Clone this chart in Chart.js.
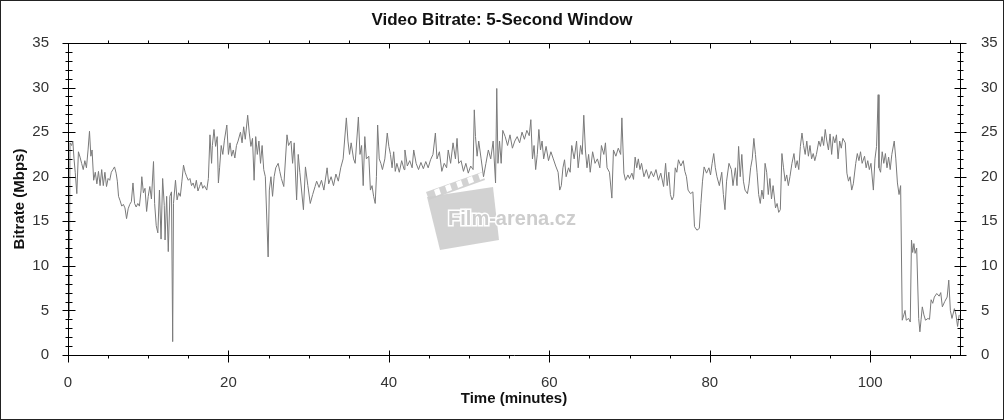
<!DOCTYPE html>
<html>
<head>
<meta charset="utf-8">
<script src="https://cdn.jsdelivr.net/npm/chart.js@4/dist/chart.umd.min.js"></script>
<style>
  html, body { margin: 0; padding: 0; background: #fff; }
  canvas { display: block; }
</style>
</head>
<body>
<canvas id="myChart" width="1004" height="420"></canvas>
<script>
// time (minutes) and 5-second-window bitrate (Mbps)
const minutes = [
  0, 0.05, 0.15, 0.25, 0.45, 0.6, 0.75, 0.9, 1.1, 1.3,
  1.5, 1.7, 1.9, 2.1, 2.3, 2.5, 2.68, 2.85, 3.0, 3.2,
  3.4, 3.6, 3.8, 4.0, 4.2, 4.4, 4.6, 4.8, 5.0, 5.2,
  5.4, 5.6, 5.8, 6.0, 6.15, 6.3, 6.5, 6.7, 6.9, 7.1,
  7.3, 7.5, 7.7, 7.9, 8.1, 8.3, 8.5, 8.7, 8.9, 9.1,
  9.2, 9.4, 9.6, 9.8, 10.0, 10.2, 10.4, 10.66, 10.8, 11.0,
  11.2, 11.4, 11.6, 11.8, 12.0, 12.1, 12.3, 12.5, 12.7, 12.9,
  13.05, 13.15, 13.4, 13.6, 13.8, 14.0, 14.2, 14.4, 14.6, 14.8,
  15.0, 15.2, 15.4, 15.6, 15.8, 16.0, 16.2, 16.4, 16.6, 16.8,
  17.0, 17.3, 17.5, 17.7, 17.9, 18.0, 18.2, 18.4, 18.6, 18.75,
  18.9, 19.1, 19.3, 19.5, 19.8, 20.0, 20.2, 20.4, 20.6, 20.8,
  21.0, 21.2, 21.5, 21.7, 21.9, 22.1, 22.4, 22.6, 22.8, 23.0,
  23.2, 23.4, 23.6, 23.8, 24.0, 24.2, 24.4, 24.6, 24.95, 25.1,
  25.3, 25.5, 25.7, 25.9, 26.2, 26.4, 26.6, 26.9, 27.3, 27.5,
  27.8, 28.0, 28.2, 28.5, 28.7, 28.9, 29.35, 29.6, 29.9, 30.2,
  30.5, 30.8, 31.0, 31.3, 31.6, 31.9, 32.3, 32.5, 32.8, 33.1,
  33.4, 33.7, 34.0, 34.3, 34.7, 34.9, 35.1, 35.3, 35.6, 35.8,
  36.2, 36.4, 36.6, 36.8, 37.0, 37.2, 37.5, 37.7, 37.9, 38.1,
  38.3, 38.45, 38.6, 38.8, 39.0, 39.2, 39.5, 39.8, 40.0, 40.2,
  40.4, 40.6, 40.8, 41.0, 41.3, 41.6, 41.9, 42.0, 42.3, 42.6,
  42.9, 43.1, 43.4, 43.7, 44.0, 44.3, 44.6, 44.9, 45.2, 45.5,
  45.8, 46.0, 46.3, 46.6, 46.9, 47.2, 47.4, 47.7, 48.0, 48.3,
  48.5, 48.7, 49.0, 49.3, 49.6, 49.9, 50.2, 50.5, 50.65, 50.8,
  51.0, 51.2, 51.5, 51.8, 52.1, 52.4, 52.7, 53.0, 53.3, 53.45,
  53.6, 53.8, 54.0, 54.2, 54.5, 54.8, 55.1, 55.4, 55.7, 56.0,
  56.3, 56.6, 56.9, 57.2, 57.5, 57.7, 57.9, 58.1, 58.3, 58.5,
  58.7, 58.9, 59.1, 59.3, 59.6, 59.9, 60.2, 60.5, 60.8, 61.1,
  61.3, 61.5, 61.7, 61.9, 62.1, 62.4, 62.6, 62.8, 63.1, 63.4,
  63.6, 63.9, 64.1, 64.3, 64.5, 64.7, 64.9, 65.1, 65.4, 65.7,
  66.0, 66.3, 66.5, 66.8, 67.0, 67.2, 67.5, 67.8, 68.0, 68.3,
  68.6, 68.9, 69.05, 69.3, 69.5, 69.8, 70.0, 70.3, 70.5, 70.7,
  70.9, 71.1, 71.3, 71.5, 71.8, 72.1, 72.4, 72.7, 73.0, 73.3,
  73.6, 73.9, 74.25, 74.5, 74.7, 74.9, 75.1, 75.3, 75.5, 75.7,
  75.9, 76.1, 76.4, 76.7, 76.9, 77.1, 77.3, 77.6, 77.9, 78.1,
  78.4, 78.7, 78.9, 79.1, 79.3, 79.6, 79.9, 80.1, 80.3, 80.5,
  80.7, 80.9, 81.2, 81.5, 81.7, 81.9, 82.1, 82.4, 82.7, 82.9,
  83.2, 83.4, 83.6, 83.8, 84.0, 84.2, 84.4, 84.7, 84.9, 85.1,
  85.3, 85.5, 85.7, 85.9, 86.1, 86.3, 86.5, 86.7, 86.9, 87.1,
  87.3, 87.5, 87.7, 87.9, 88.2, 88.4, 88.6, 88.8, 89.0, 89.2,
  89.4, 89.6, 89.8, 90.0, 90.25, 90.5, 90.7, 90.9, 91.1, 91.3,
  91.5, 91.7, 91.9, 92.1, 92.3, 92.5, 92.7, 92.9, 93.1, 93.3,
  93.6, 93.8, 94.0, 94.2, 94.4, 94.6, 94.8, 95.0, 95.2, 95.4,
  95.6, 95.8, 96.0, 96.2, 96.4, 96.6, 96.9, 97.1, 97.3, 97.5,
  97.7, 97.9, 98.2, 98.4, 98.6, 98.8, 99.0, 99.3, 99.5, 99.7,
  99.9, 100.1, 100.4, 100.6, 100.8, 101.0, 101.1, 101.3, 101.5, 101.7,
  101.9, 102.1, 102.3, 102.5, 102.7, 103.0, 103.2, 103.4, 103.6, 103.8,
  104.0, 104.2, 104.35, 104.5, 104.8, 105.0, 105.15, 105.3, 105.45, 105.6,
  105.8, 106.05, 106.2, 106.35, 106.5, 106.7, 106.9, 107.2, 107.4, 107.6,
  107.8, 108.0, 108.3, 108.6, 108.8, 109.0, 109.3, 109.6, 109.8, 110.0,
  110.2, 110.5, 110.7, 110.9, 111.1
];
const mbps = [
  3.0, 5.0, 4.2, 23.8, 23.5, 24.0, 22.0, 20.5, 18.1, 22.8,
  22.2, 21.5, 20.8, 21.8, 21.0, 23.0, 25.1, 22.3, 23.0, 19.6,
  20.5, 19.2, 20.6, 19.0, 20.8, 19.0, 20.5, 18.9, 19.8, 19.6,
  20.5, 20.8, 21.1, 20.4, 19.5, 17.8, 17.3, 16.7, 16.9, 16.5,
  15.3, 16.4, 16.9, 17.2, 19.3, 17.0, 16.6, 17.0, 16.7, 18.4,
  20.0, 18.2, 18.7, 16.1, 17.8, 18.9, 17.5, 21.7, 17.0, 14.5,
  13.7, 18.5, 13.0, 19.8, 16.8, 12.9, 17.8, 11.6, 17.8, 18.3,
  1.5, 17.0, 19.6, 17.4, 18.2, 17.8, 19.5, 21.3, 20.5, 20.0,
  19.6, 19.8, 19.0, 19.3, 18.7, 19.6, 18.4, 18.9, 19.4, 18.7,
  19.0, 18.5, 19.8, 24.7, 21.5, 23.5, 25.3, 23.4, 24.5, 19.3,
  21.0, 23.5, 22.5, 24.1, 25.8, 22.5, 23.8, 22.3, 23.0, 22.1,
  23.5, 24.0, 25.0, 23.8, 25.6, 24.2, 26.9, 24.9, 23.4, 24.3,
  19.6, 24.5, 22.5, 24.0, 21.5, 23.5, 20.8, 20.0, 11.0, 18.5,
  20.0, 17.8, 20.0, 21.0, 21.5, 20.6, 19.8, 18.9, 24.7, 23.5,
  24.0, 21.5, 23.8, 17.4, 22.5, 20.5, 16.3, 21.1, 19.0, 17.0,
  18.0, 18.9, 19.5, 18.8, 19.6, 18.5, 21.0, 19.2, 20.0, 19.0,
  20.3, 19.5, 21.0, 22.0, 26.6, 24.0, 22.5, 23.8, 22.0, 21.5,
  26.7, 22.5, 23.5, 19.0, 24.5, 22.0, 22.3, 18.5, 19.0, 17.8,
  17.0, 20.0, 25.8, 22.0, 21.5, 20.8, 22.0, 24.9, 23.4, 22.5,
  21.0, 22.8, 20.6, 21.5, 20.5, 21.8, 20.8, 23.0, 21.2, 21.8,
  21.0, 23.0, 21.5, 20.8, 21.6, 20.9, 21.7, 21.0, 21.9, 22.5,
  24.9, 22.0, 22.8, 20.6, 21.5, 21.0, 23.0, 21.5, 23.8, 22.0,
  24.3, 21.5, 21.8, 20.6, 21.5, 20.4, 21.2, 20.8, 27.5, 24.5,
  22.3, 24.0, 22.0, 20.0, 21.5, 23.0, 22.0, 24.0, 19.3, 29.9,
  21.5, 24.0, 21.5, 25.2, 24.5, 23.5, 24.7, 23.2, 24.0, 24.5,
  23.8, 25.0, 24.2, 25.2, 24.6, 26.4, 22.0, 23.5, 20.8, 22.5,
  25.3, 23.0, 24.0, 22.0, 23.4, 21.8, 22.8, 22.0, 21.2, 20.5,
  18.5, 19.0, 21.0, 21.9, 20.0, 21.0, 20.5, 23.5, 22.0, 24.0,
  21.0, 23.5, 22.5, 26.9, 23.0, 21.0, 22.5, 20.5, 22.8, 21.5,
  22.0, 21.0, 23.5, 22.5, 23.8, 21.0, 20.5, 17.6, 23.0, 22.3,
  23.2, 22.5, 26.6, 20.4, 19.6, 20.2, 19.8, 20.4, 19.7, 22.2,
  21.0, 22.0, 20.8, 21.5, 20.0, 20.8, 19.8, 20.6, 20.0, 20.8,
  19.6, 20.4, 18.9, 21.5, 19.0, 20.5, 18.0, 17.4, 17.8, 21.0,
  20.5, 21.9, 21.2, 21.8, 20.6, 20.0, 18.5, 18.1, 18.3, 14.4,
  14.0, 14.2, 17.0, 19.5, 21.1, 20.4, 21.0, 20.2, 21.5, 22.6,
  21.0, 20.0, 19.0, 20.5, 18.0, 16.3, 19.5, 21.5, 20.8, 19.0,
  21.0, 19.0, 23.4, 20.0, 22.5, 19.5, 18.5, 18.1, 19.2, 21.0,
  22.0, 24.3, 22.5, 20.5, 18.0, 17.0, 18.5, 17.5, 21.5, 20.5,
  18.0, 19.8, 17.5, 19.0, 16.5, 17.0, 16.0, 16.3, 22.6, 21.0,
  19.5, 20.2, 19.0, 20.0, 21.5, 22.6, 21.0, 21.8, 20.8, 23.4,
  24.9, 23.5, 22.5, 24.0, 22.3, 23.5, 22.0, 22.6, 21.8, 22.5,
  24.0, 23.4, 24.5, 23.5, 25.3, 24.0, 23.0, 24.8, 22.5, 24.5,
  23.8, 24.7, 22.0, 24.0, 23.2, 24.3, 23.8, 20.4, 19.5, 20.0,
  18.5, 19.2, 21.5, 22.6, 21.8, 22.8, 21.5, 22.3, 21.0, 21.8,
  20.8, 21.5, 18.5, 22.0, 23.4, 29.2, 21.0, 20.5, 22.8, 21.5,
  22.6, 21.0, 22.2, 20.8, 22.5, 24.0, 22.0, 19.3, 18.0, 19.0,
  3.9, 4.5, 5.0, 3.9, 4.1, 3.7, 12.9, 11.5, 12.5, 11.4,
  12.0, 4.1, 2.6, 4.0, 5.4, 4.5, 3.9, 4.1, 4.0, 6.2,
  5.8, 6.5, 6.9, 6.6, 7.0, 5.4, 6.0, 6.5, 8.4, 5.0,
  4.1, 5.2, 4.5, 3.2, 4.5
];

const xTicks = [0, 20, 40, 60, 80, 100];
const yTicks = [0, 5, 10, 15, 20, 25, 30, 35];
const xMax = 111.2;

const FONT = "'Liberation Sans', Arial, sans-serif";
const tickFont = { family: FONT, size: 15 };
const titleFont = { family: FONT, size: 15, weight: 'bold' };

// axis lines, crossing major ticks, minor ticks, frame and watermark
const axisMarks = {
    id: 'axisMarks',
    beforeDatasetsDraw(chart) {
        const { ctx, chartArea: a } = chart;
        const cx = (a.left + a.right) / 2, cy = (a.top + a.bottom) / 2;
        ctx.save();
        ctx.fillStyle = 'rgba(205,205,205,0.9)';
        // clapper body
        ctx.beginPath();
        ctx.moveTo(cx - 87, cy - 2);
        ctx.lineTo(cx - 21, cy - 12);
        ctx.lineTo(cx - 15, cy + 41);
        ctx.lineTo(cx - 74, cy + 51);
        ctx.closePath();
        ctx.fill();
        // clapper top bar
        ctx.beginPath();
        ctx.moveTo(cx - 88, cy - 7);
        ctx.lineTo(cx - 32, cy - 27);
        ctx.lineTo(cx - 29, cy - 19);
        ctx.lineTo(cx - 85, cy + 1);
        ctx.closePath();
        ctx.fill();
        ctx.fillStyle = '#fff';
        for (let i = 0; i < 5; i++) {
            const ox = cx - 80 + i * 11, oy = cy - 9 - i * 4;
            ctx.beginPath();
            ctx.moveTo(ox, oy);
            ctx.lineTo(ox + 5, oy - 2);
            ctx.lineTo(ox + 7, oy + 4);
            ctx.lineTo(ox + 2, oy + 6);
            ctx.closePath();
            ctx.fill();
        }
        ctx.font = "bold 20px " + FONT;
        ctx.textAlign = 'center';
        ctx.textBaseline = 'middle';
        ctx.lineWidth = 3;
        ctx.strokeStyle = '#fff';
        ctx.strokeText('Film-arena.cz', cx - 2, cy + 20);
        ctx.fillStyle = '#cdcdcd';
        ctx.fillText('Film-arena.cz', cx - 2, cy + 20);
        ctx.restore();
    },
    afterDraw(chart) {
        const { ctx, chartArea: a, scales: { x, y } } = chart;
        const L = Math.round(a.left) + 0.5, R = Math.round(a.right) + 0.5;
        const T = Math.round(a.top) + 0.5, B = Math.round(a.bottom) + 0.5;
        ctx.save();
        ctx.strokeStyle = '#000';
        ctx.lineWidth = 1;
        ctx.beginPath();
        ctx.moveTo(L - 3, T); ctx.lineTo(R, T);
        ctx.moveTo(L, T); ctx.lineTo(L, B);
        ctx.moveTo(R, T); ctx.lineTo(R, B);
        ctx.moveTo(L, B); ctx.lineTo(R, B);
        for (let v = 0; v <= 35; v++) {
            const p = Math.round(y.getPixelForValue(v)) + 0.5;
            const major = v % 5 === 0;
            ctx.moveTo(L - (major ? 6 : 3), p); ctx.lineTo(L + (major ? 7 : 4), p);
            ctx.moveTo(R - (major ? 6 : 3), p); ctx.lineTo(R + (major ? 6 : 3), p);
        }
        for (let t = 0; t <= xMax; t += 5) {
            const p = Math.round(x.getPixelForValue(t)) + 0.5;
            if (t % 20 === 0) {
                ctx.moveTo(p, B - 5); ctx.lineTo(p, B + 7);
                ctx.moveTo(p, T); ctx.lineTo(p, T + 5);
            } else {
                ctx.moveTo(p, B); ctx.lineTo(p, B + 3);
                ctx.moveTo(p, T - 3); ctx.lineTo(p, T);
            }
        }
        ctx.stroke();
        ctx.strokeStyle = '#222';
        ctx.strokeRect(0.5, 0.5, chart.width - 1, chart.height - 1);
        ctx.restore();
    }
};

const data = {
    datasets: [{
        label: 'Video Bitrate',
        data: minutes.map((t, i) => ({ x: t, y: mbps[i] })),
        borderColor: '#7a7a7a',
        borderWidth: 1,
        pointRadius: 0,
        tension: 0,
        fill: false
    }]
};

const config = {
    type: 'line',
    data: data,
    options: {
        responsive: false,
        animation: false,
        devicePixelRatio: 1,
        layout: { padding: 0 },
        plugins: {
            legend: { display: false },
            tooltip: { enabled: false },
            title: {
                display: true,
                text: 'Video Bitrate: 5-Second Window',
                color: '#111',
                font: { family: FONT, size: 17, weight: 'bold' },
                padding: { top: 10, bottom: 12.6 }
            }
        },
        scales: {
            x: {
                type: 'linear',
                position: 'bottom',
                min: 0,
                max: xMax,
                afterBuildTicks: s => { s.ticks = xTicks.map(v => ({ value: v })); },
                afterFit: s => { s.height = 65; },
                ticks: { font: tickFont, color: '#333', padding: 11, maxRotation: 0 },
                grid: { display: false },
                border: { display: false },
                title: { display: true, text: 'Time (minutes)', color: '#111', font: titleFont, padding: { top: 0, bottom: 12 } }
            },
            y: {
                position: 'left',
                min: 0,
                max: 35,
                afterBuildTicks: s => { s.ticks = yTicks.map(v => ({ value: v })); },
                afterFit: s => { s.width = 68; },
                ticks: { font: tickFont, color: '#333', padding: 11 },
                grid: { display: false },
                border: { display: false },
                title: { display: true, text: 'Bitrate (Mbps)', color: '#111', font: titleFont, padding: { top: 11, bottom: 0 } }
            },
            y2: {
                position: 'right',
                min: 0,
                max: 35,
                afterBuildTicks: s => { s.ticks = yTicks.map(v => ({ value: v })); },
                afterFit: s => { s.width = 44; },
                ticks: { font: tickFont, color: '#333', padding: 13 },
                grid: { display: false },
                border: { display: false }
            }
        }
    },
    plugins: [axisMarks]
};

const ctx = document.getElementById('myChart').getContext('2d');
new Chart(ctx, config);
</script>
</body>
</html>
